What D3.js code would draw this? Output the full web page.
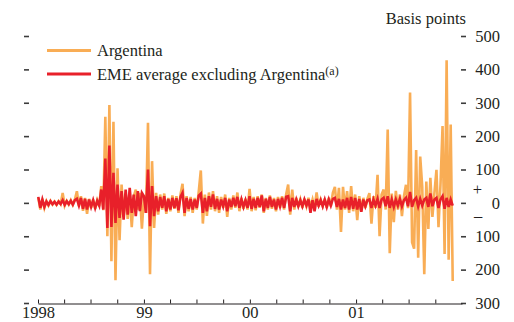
<!DOCTYPE html>
<html>
<head>
<meta charset="utf-8">
<script src="https://cdn.jsdelivr.net/npm/d3@7"></script>
<style>
  body { margin: 0; background: #fff; }
</style>
</head>
<body>
<div id="chart"></div>
<script>
// weekly changes in spreads, basis points
const yTicks = [500, 400, 300, 200, 100, 0, -100, -200, -300];
const yearLabels = { 1998: "1998", 1999: "99", 2000: "00", 2001: "01" };
const seriesNames = ["Argentina", "EME average excluding Argentina"];

const argentina = [
  // 1998
  15, -20, 12, -15, 5, -8, 6, -5, 4, -6, 5, -4, 30, -8, 6, -5, 8, -6, 10, 35,
  -10, 20, -24, 15, -33, 12, -15, 10, -18, 8, -10, 50, -22, 258, -100, 293, -175, 243, -232, 104,
  -112, 55, -42, 30, -48, 25, -73, 20, 40, -20, 30, -77,
  // 1999
  20, -30, 240, -214, 125, -75, 30, -35, 25, -20, 28, -33, 15, -25, 22, -18, 20, -30, 25, 57,
  -40, 20, -25, 18, -30, 15, -20, 35, 97, -62, 25, -39, 31, -20, 35, -25, 20, -30, 18, -15,
  25, -42, 15, -20, 22, -15, 31, -25, 15, -18, 12, -20,
  // 2000
  42, -25, 18, -22, 20, -15, 25, -30, 15, -20, 22, -18, 15, -25, 18, -15, 20, -20, 25, 55,
  -35, 40, -20, 15, -12, 10, -15, 12, -10, 15, -12, 10, -15, 31, -12, 10, -10, 12, -15, 15,
  -10, 30, 48, -20, 45, -87, 48, -20,
  // 2001
  35, -30, 50, -25, 25, -52, 20, -25, 15, -15, 12, 29, -62, 20, -15, 84, -100, 25, 40, -20,
  220, -151, 28, -58, 36, -20, 25, -40, 20, 54, -16, 331, -118, -137, 158, -164, 139, 48, -214, 64,
  -78, 75, -42, 30, 99, -73, 57, 230, -153, 427, -170, 235, -234
];

const emeAverage = [
  // 1998
  18, -15, 10, -12, 4, -6, 5, -4, 3, -5, 4, -3, 8, -6, 5, -4, 6, -5, 8, 12,
  -8, 15, -18, 12, -20, 10, -12, 8, -15, 6, -8, 40, -20, 133, -75, 172, -72, 90, -60, 55,
  -45, 35, -50, 40, -35, 45, -30, 25, -40, 35, -25, 30,
  // 1999
  20, -30, 100, -70, 50, -40, 20, -25, 18, -15, 20, -25, 12, -20, 15, -15, 14, -22, 18, 30,
  -30, 15, -18, 12, -20, 10, -15, 22, 28, -30, 15, -25, 20, -12, 25, -18, 12, -20, 10, -10,
  15, -25, 10, -12, 15, -10, 18, -15, 10, -12, 8, -15,
  // 2000
  20, -18, 12, -15, 15, -12, 22, -25, 12, -15, 18, -12, 10, -20, 12, -10, 15, -15, 18, 20,
  -25, 15, -12, 10, -10, 8, -10, 10, -8, 10, -30, 8, -25, 12, -8, 8, -10, 10, -12, 10,
  -8, 12, 15, -12, 12, -20, 10, -15,
  // 2001
  15, -20, 18, -18, 15, -20, 12, -27, 10, -10, 8, 10, -15, 10, -8, 12, -15, 10, 15, -10,
  20, -15, 10, -12, 10, -8, 12, -10, 8, 15, -10, 33, -12, 8, 15, -10, 12, -8, 10, 15,
  -12, 28, -10, 10, 15, -15, 10, 20, -18, 15, -12, 10, -8
];

const colors = { argentina: "#f9ad55", eme: "#e8202a" };
const FONT = "'Liberation Serif', 'DejaVu Serif', serif";
const INK = "#231f20";
const FS = 16.5;

const W = 514, H = 322;
const firstWeek = new Date(1998, 0, 2);
const weekDate = i => d3.timeDay.offset(firstWeek, 7 * i);

const svg = d3.select("#chart").append("svg")
  .attr("width", W)
  .attr("height", H)
  .style("font-family", FONT);

const x = d3.scaleTime()
  .domain([new Date(1998, 0, 1), new Date(2002, 0, 1)])
  .range([38, 462]);
const y = d3.scaleLinear()
  .domain([-300, 500])
  .range([303, 36]);

const label = (sel, size) => sel
  .attr("font-family", FONT)
  .attr("font-size", size)
  .attr("fill", INK);

// left tick marks, no labels
const leftAxis = svg.append("g")
  .attr("transform", "translate(29,0)")
  .call(d3.axisLeft(y).tickValues(yTicks).tickSize(5).tickFormat(""));
leftAxis.select(".domain").remove();
leftAxis.selectAll("line").attr("stroke", "#3c3c3c").attr("stroke-width", 1.6);

// right axis with labels
const rightAxis = svg.append("g")
  .attr("transform", "translate(461,0)")
  .call(d3.axisRight(y).tickValues(yTicks).tickSize(5).tickFormat(d => Math.abs(d)));
rightAxis.attr("font-family", FONT);
rightAxis.select(".domain").remove();
rightAxis.selectAll("line").attr("stroke", "#3c3c3c").attr("stroke-width", 1.6);
rightAxis.selectAll("text")
  .attr("x", 39)
  .attr("text-anchor", "end")
  .call(label, FS);

svg.append("text").attr("x", 477.5).attr("y", y(0) - 8).attr("text-anchor", "middle")
  .call(label, FS).text("+");
svg.append("text").attr("x", 478).attr("y", y(0) + 18).attr("text-anchor", "middle")
  .call(label, FS).text("–");

svg.append("text")
  .attr("x", 466).attr("y", 24)
  .attr("text-anchor", "end")
  .call(label, FS)
  .text("Basis points");

// bottom axis, quarterly ticks
const quarters = d3.timeMonth.every(3).range(new Date(1998, 0, 1), new Date(2001, 11, 31));
const bottomAxis = svg.append("g")
  .attr("transform", "translate(0,303.5)")
  .call(d3.axisBottom(x)
    .tickValues(quarters)
    .tickSizeInner(-4)
    .tickSizeOuter(0)
    .tickPadding(3)
    .tickFormat(d => d.getMonth() === 0 ? yearLabels[d.getFullYear()] : ""));
bottomAxis.attr("font-family", FONT);
bottomAxis.select(".domain").attr("stroke", INK);
bottomAxis.selectAll("line").attr("stroke", INK);
bottomAxis.selectAll("text").call(label, FS);

// lines
const line = d3.line()
  .x((d, i) => x(weekDate(i)))
  .y(d => y(d));

svg.append("path")
  .datum(argentina)
  .attr("fill", "none")
  .attr("stroke", colors.argentina)
  .attr("stroke-width", 2.6)
  .attr("d", line);

svg.append("path")
  .datum(emeAverage)
  .attr("fill", "none")
  .attr("stroke", colors.eme)
  .attr("stroke-width", 2.6)
  .attr("d", line);

// legend
const legend = svg.append("g");
[colors.argentina, colors.eme].forEach((c, i) => {
  const ly = 50.5 + i * 23.5;
  legend.append("line")
    .attr("x1", 47).attr("x2", 91)
    .attr("y1", ly).attr("y2", ly)
    .attr("stroke", c).attr("stroke-width", 3);
  const t = legend.append("text")
    .attr("x", 97).attr("y", ly + 5.5)
    .call(label, FS)
    .text(seriesNames[i]);
  if (i === 1) {
    t.append("tspan").attr("dy", -5).attr("font-size", 12).text("(a)");
  }
});
</script>
</body>
</html>
